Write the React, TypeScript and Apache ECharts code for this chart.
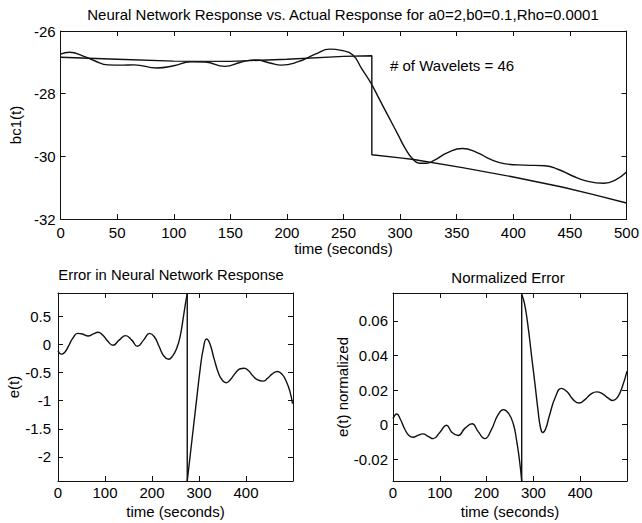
import React, { useEffect, useRef } from "react";
import * as echarts from "echarts";

const FONT = '"Liberation Sans", Arial, Helvetica, sans-serif';
const INK = "#111";

// ---------- Top plot: bc1(t) ----------
const actualT = [0, 50, 100, 150, 200, 250, 275, 275, 300, 312, 355, 400, 443, 471, 500];
const actualV = [-26.84, -26.9, -26.96, -26.97, -26.9, -26.81, -26.79, -29.95, -30.05, -30.1, -30.36, -30.66, -30.98, -31.22, -31.49];

const netT = [0, 8, 20, 30, 42, 55, 65, 85, 100, 115, 128, 145, 160, 172, 185, 195, 210, 225, 238, 248, 258, 266, 274, 282, 290, 298, 305, 311, 317, 323, 330, 342, 355, 368, 380, 393, 410, 428, 440, 452, 466, 480, 490, 500];
const netV = [-26.74, -26.68, -26.8, -26.95, -27.08, -27.09, -27.08, -27.18, -27.11, -26.98, -26.99, -27.13, -26.99, -26.92, -27.02, -27.09, -26.98, -26.74, -26.58, -26.62, -26.76, -27.2, -27.65, -28.2, -28.75, -29.3, -29.78, -30.08, -30.22, -30.22, -30.13, -29.88, -29.75, -29.88, -30.1, -30.24, -30.28, -30.3, -30.42, -30.62, -30.8, -30.86, -30.76, -30.5];

// ---------- Bottom-left: e(t) ----------
const errPreT = [0, 7, 14, 22, 32, 42, 52, 64, 75, 85, 95, 106, 117, 130, 144, 157, 169, 182, 195, 205, 215, 225, 235, 244, 252, 260, 266, 271, 275];
const errPreV = [-0.11, -0.17, -0.14, -0.03, 0.12, 0.2, 0.19, 0.155, 0.19, 0.22, 0.17, 0.06, -0.01, 0.08, 0.16, 0.08, -0.03, 0.08, 0.2, 0.14, -0.03, -0.2, -0.26, -0.2, -0.08, 0.15, 0.45, 0.72, 0.91];
const errPostT = [275, 285, 295, 303, 309, 316, 323, 332, 342, 350, 358, 367, 378, 388, 396, 405, 415, 425, 436, 446, 456, 467, 477, 486, 493, 499];
const errPostV = [-2.43, -1.7, -0.97, -0.4, -0.08, 0.1, 0.02, -0.25, -0.52, -0.64, -0.68, -0.62, -0.5, -0.43, -0.42, -0.46, -0.56, -0.63, -0.65, -0.6, -0.52, -0.48, -0.53, -0.66, -0.82, -1.05];

// ---------- Bottom-right: normalized error ----------
const nrmPreT = [0, 8, 16, 25, 34, 43, 53, 64, 75, 86, 100, 114, 126, 139, 154, 169, 182, 196, 210, 224, 236, 247, 257, 264, 270, 275];
const nrmPreV = [0.0035, 0.0062, 0.003, -0.0025, -0.0062, -0.0073, -0.0062, -0.0053, -0.0068, -0.0081, -0.0045, -0.0003, -0.0045, -0.0063, -0.002, 0.0005, -0.004, -0.0081, -0.003, 0.0055, 0.0087, 0.0065, 0.0005, -0.009, -0.02, -0.0326];
const nrmPostT = [275, 281, 288, 296, 304, 310, 315, 320, 326, 334, 347, 360, 372, 385, 398, 410, 422, 435, 447, 459, 470, 480, 490, 500];
const nrmPostV = [0.0755, 0.07, 0.058, 0.04, 0.022, 0.008, -0.0015, -0.0045, -0.0025, 0.005, 0.016, 0.021, 0.019, 0.0145, 0.0125, 0.0145, 0.0175, 0.019, 0.018, 0.0155, 0.014, 0.016, 0.022, 0.031];

// ---------- Ticks ----------
const topXTicks = [0, 50, 100, 150, 200, 250, 300, 350, 400, 450, 500];
const topYTicks = [-32, -30, -28, -26];
const botXTicks = [0, 100, 200, 300, 400];
const errYTicks = [-2, -1.5, -1, -0.5, 0, 0.5];
const nrmYTicks = [-0.02, 0, 0.02, 0.04, 0.06];

const zip = (t: number[], v: number[]) => t.map((x, i) => [x, v[i]]);
const fmt = (v: number) => String(parseFloat(Number(v).toFixed(4)));

const LBL = 15;
const txt = (size: number) => ({ fontSize: size, fontFamily: FONT, color: "#000" });

function xAxes(g: number, min: number, max: number, ticks: number[], name: string, nameGap: number, margin: number) {
  const base = {
    type: "value",
    gridIndex: g,
    min,
    max,
    splitLine: { show: false },
    axisLine: { show: true, onZero: false, lineStyle: { color: INK, width: 1 } },
    axisTick: { show: true, inside: true, length: 5, customValues: ticks, lineStyle: { color: INK, width: 1 } },
  };
  return [
    {
      ...base,
      position: "bottom",
      axisLabel: { show: true, customValues: ticks, margin, formatter: fmt, ...txt(LBL) },
      name,
      nameLocation: "middle",
      nameGap,
      nameTextStyle: txt(LBL),
    },
    { ...base, position: "top", axisLabel: { show: false } },
  ];
}

function yAxes(g: number, min: number, max: number, ticks: number[], name: string, nameGap: number, margin: number) {
  const base = {
    type: "value",
    gridIndex: g,
    min,
    max,
    splitLine: { show: false },
    axisLine: { show: true, onZero: false, lineStyle: { color: INK, width: 1 } },
    axisTick: { show: true, inside: true, length: 5, customValues: ticks, lineStyle: { color: INK, width: 1 } },
  };
  return [
    {
      ...base,
      position: "left",
      axisLabel: { show: true, customValues: ticks, margin, formatter: fmt, ...txt(LBL) },
      name,
      nameLocation: "middle",
      nameGap,
      nameRotate: 90,
      nameTextStyle: txt(LBL),
    },
    { ...base, position: "right", axisLabel: { show: false } },
  ];
}

function line(g: number, data: number[][], smooth: boolean) {
  return {
    type: "line",
    xAxisIndex: 2 * g,
    yAxisIndex: 2 * g,
    data,
    smooth: smooth ? 0.5 : false,
    showSymbol: false,
    symbol: "none",
    lineStyle: { color: INK, width: 1.4 },
    silent: true,
  };
}

export default function App() {
  const ref = useRef<HTMLDivElement>(null);
  useEffect(() => {
    if (!ref.current) return;
    const chart = echarts.init(ref.current, undefined, { renderer: "svg" });
    const errPre = zip(errPreT, errPreV);
    const errPost = zip(errPostT, errPostV);
    const nrmPre = zip(nrmPreT, nrmPreV);
    const nrmPost = zip(nrmPostT, nrmPostV);
    chart.setOption({
      animation: false,
      backgroundColor: "#fff",
      grid: [
        { left: 58, top: 31, width: 570, height: 188 },
        { left: 58, top: 293, width: 235, height: 188 },
        { left: 393, top: 293, width: 234, height: 188 },
      ],
      xAxis: [
        ...xAxes(0, 0, 500, topXTicks, "time (seconds)", 22, 6),
        ...xAxes(1, 0, 500, botXTicks, "time (seconds)", 23, 4),
        ...xAxes(2, 0, 500, botXTicks, "time (seconds)", 23, 4),
      ],
      yAxis: [
        ...yAxes(0, -32, -26, topYTicks, "bc1(t)", 28, 5),
        ...yAxes(1, -2.43, 0.92, errYTicks, "e(t)", 34, 7),
        ...yAxes(2, -0.0326, 0.0762, nrmYTicks, "e(t) normalized", 36, 5),
      ],
      graphic: [
        {
          type: "text",
          x: 343,
          y: 14,
          style: {
            text: "Neural Network Response vs. Actual Response for a0=2,b0=0.1,Rho=0.0001",
            fontSize: 15,
            fontFamily: FONT,
            fill: "#000",
            align: "center",
            verticalAlign: "middle",
          },
        },
        {
          type: "text",
          x: 390,
          y: 65,
          style: { text: "# of Wavelets = 46", fontSize: 15, fontFamily: FONT, fill: "#000", align: "left", verticalAlign: "middle" },
        },
        {
          type: "text",
          x: 171,
          y: 275,
          style: { text: "Error in Neural Network Response", fontSize: 14.8, fontFamily: FONT, fill: "#000", align: "center", verticalAlign: "middle" },
        },
        {
          type: "text",
          x: 508,
          y: 277,
          style: { text: "Normalized Error", fontSize: 15, fontFamily: FONT, fill: "#000", align: "center", verticalAlign: "middle" },
        },
      ],
      series: [
        line(0, zip(actualT, actualV), false),
        line(0, zip(netT, netV), true),
        line(1, errPre, true),
        line(1, [errPre[errPre.length - 1], errPost[0]], false),
        line(1, errPost, true),
        line(2, nrmPre, true),
        line(2, [nrmPre[nrmPre.length - 1], nrmPost[0]], false),
        line(2, nrmPost, true),
      ],
    });
    return () => chart.dispose();
  }, []);
  return (
    <div
      ref={ref}
      style={{ position: "absolute", left: 0, top: 0, width: 642, height: 523, background: "#fff" }}
    />
  );
}
